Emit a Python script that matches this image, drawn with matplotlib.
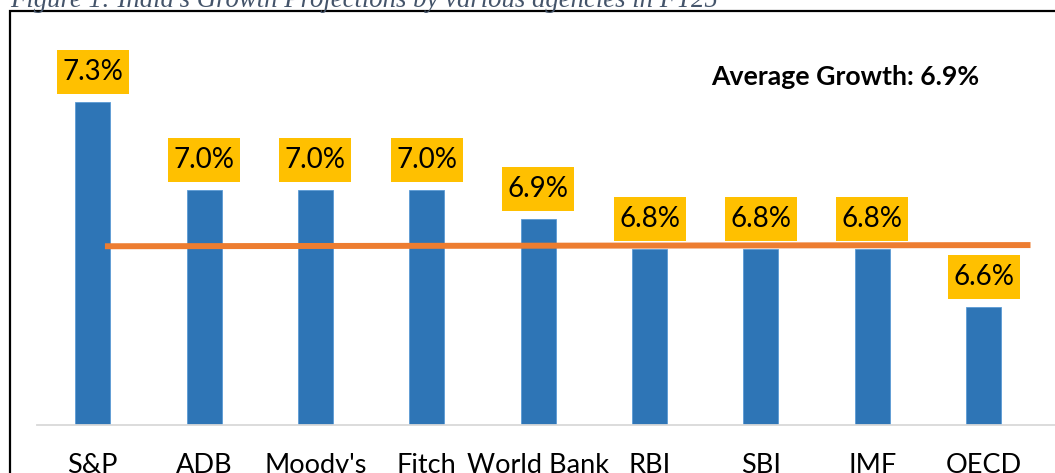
import matplotlib
matplotlib.use("Agg")
import matplotlib.pyplot as plt
from matplotlib.patches import Rectangle
from matplotlib.transforms import ScaledTranslation

agencies = ["S&P", "ADB", "Moody's", "Fitch", "World Bank", "RBI", "SBI", "IMF", "OECD"]
growth = [7.3, 7.0, 7.0, 7.0, 6.9, 6.8, 6.8, 6.8, 6.6]
value_labels = ["7.3%", "7.0%", "7.0%", "7.0%", "6.9%", "6.8%", "6.8%", "6.8%", "6.6%"]
avg_line_x = [0.11, 8.42]
avg_line_y = [6.808, 6.812]
avg_text = "Average Growth: 6.9%"
title = "Figure 1: India's Growth Projections by various agencies in FY25"

W, H = 1055, 473
fig = plt.figure(figsize=(W / 100, H / 100), dpi=100)

# axes: x 37..1055 px, y 11..425 px
ax = fig.add_axes([37 / W, (H - 425) / H, (1055 - 37) / W, (425 - 11) / H])
x = list(range(len(agencies)))
ax.bar(x, growth, width=0.314, color="#2E75B6", edgecolor="#5B9BD5", linewidth=0.6, zorder=2)
ax.plot(avg_line_x, avg_line_y, color="#ED7D31", linewidth=4.3, solid_capstyle="butt", zorder=3)

ax.set_xlim(-0.5, 8.64)
ax.set_ylim(6.2, 6.2 + (425 - 11) / 294)

for xi, v, lab in zip(x, growth, value_labels):
    tr = fig.dpi_scale_trans + ScaledTranslation(xi, v, ax.transData)
    ax.add_patch(Rectangle((-0.36, 0.08), 0.72, 0.44, transform=tr,
                           fc="#FFC000", ec="none", zorder=4, clip_on=False))
    ax.text(0, 0.30, lab, transform=tr, ha="center", va="center",
            fontsize=20, family="Lato", color="black", zorder=5)

fig.text(845 / W, 1 - 77 / H, avg_text, ha="center", va="center",
         fontsize=19.2, fontweight="bold", family="Lato", color="black")

for s in ["top", "right", "left"]:
    ax.spines[s].set_visible(False)
ax.spines["bottom"].set_color("#D9D9D9")
ax.spines["bottom"].set_linewidth(1.3)
ax.set_yticks([])
ax.set_xticks(x)
ax.set_xticklabels(agencies, fontsize=19.5, family="Lato")
ax.tick_params(axis="x", length=0, pad=20)

# outer border
fig.patches.append(Rectangle((10 / W, -0.1), 1.2, 1.1 - 11 / H, transform=fig.transFigure,
                             fill=False, ec="black", lw=1.6))
fig.text(10 / W, 1 - 7 / H, title, ha="left", va="baseline", fontsize=19.3,
         family="Liberation Serif", style="italic", color="#44546A")

fig.savefig("out.png", dpi=100)
